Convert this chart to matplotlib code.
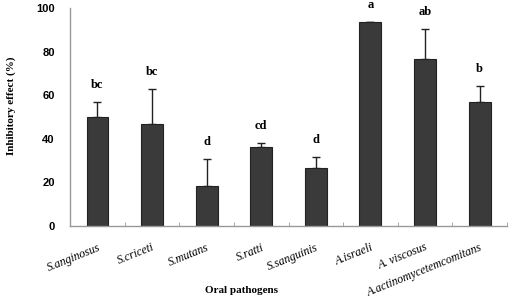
import matplotlib.pyplot as plt
import numpy as np

pathogens = ['S.anginosus', 'S.criceti', 'S.mutans', 'S.ratti', 'S.sanguinis',
             'A.israeli', 'A. viscosus', 'A.actinomycetemcomitans']
inhibition = [50.0, 46.8, 18.5, 36.2, 26.8, 93.7, 76.7, 56.7]
err_upper = [7.0, 16.0, 12.2, 1.8, 5.0, 0.0, 13.7, 7.5]
letters = ['bc', 'bc', 'd', 'cd', 'd', 'a', 'ab', 'b']

fig = plt.figure(figsize=(5.12, 3.01), dpi=100)
ax = fig.add_axes([0.137, 0.249, 0.853, 0.724])

x = np.arange(len(pathogens))
ax.bar(x, inhibition, width=0.4, color='#3a3a3a', edgecolor='#222222', linewidth=0.8, zorder=2)
ax.errorbar(x, inhibition, yerr=[np.zeros(len(x)), err_upper], fmt='none',
            ecolor='#222222', elinewidth=1.0, capsize=3, capthick=1.0, zorder=1)

for xi, v, e, lab in zip(x, inhibition, err_upper, letters):
    ax.annotate(lab, (xi, v + e), xytext=(0, 8), textcoords='offset points',
                ha='center', va='bottom', fontsize=9, fontweight='bold',
                family='Liberation Serif')

ax.set_xlim(-0.5, len(x) - 0.5)
ax.set_ylim(0, 100)
ax.set_yticks([0, 20, 40, 60, 80, 100])
ax.set_yticklabels(['0', '20', '40', '60', '80', '100'], fontsize=8,
                   fontweight='bold', family='Liberation Sans')
ax.tick_params(axis='y', length=0, pad=11)

ax.set_xticks(x)
ax.set_xticklabels(pathogens, rotation=22, ha='right', rotation_mode='anchor',
                   fontsize=8.5, style='italic', family='Liberation Serif')
ax.tick_params(axis='x', which='major', length=0, pad=11)
ax.set_xticks(np.arange(len(x) + 1) - 0.5, minor=True)
ax.tick_params(axis='x', which='minor', length=3, direction='in', color='#999999')

for s in ['top', 'right']:
    ax.spines[s].set_visible(False)
for s in ['left', 'bottom']:
    ax.spines[s].set_color('#999999')
    ax.spines[s].set_linewidth(1.0)

fig.text(0.472, 0.02, 'Oral pathogens', ha='center', va='bottom', fontsize=8,
         fontweight='bold', family='Liberation Serif')
fig.text(0.022, 0.65, 'Inhibitory effect (%)', rotation=90, ha='center', va='center',
         fontsize=8, fontweight='bold', family='Liberation Serif')

plt.savefig('out.png', dpi=100)
